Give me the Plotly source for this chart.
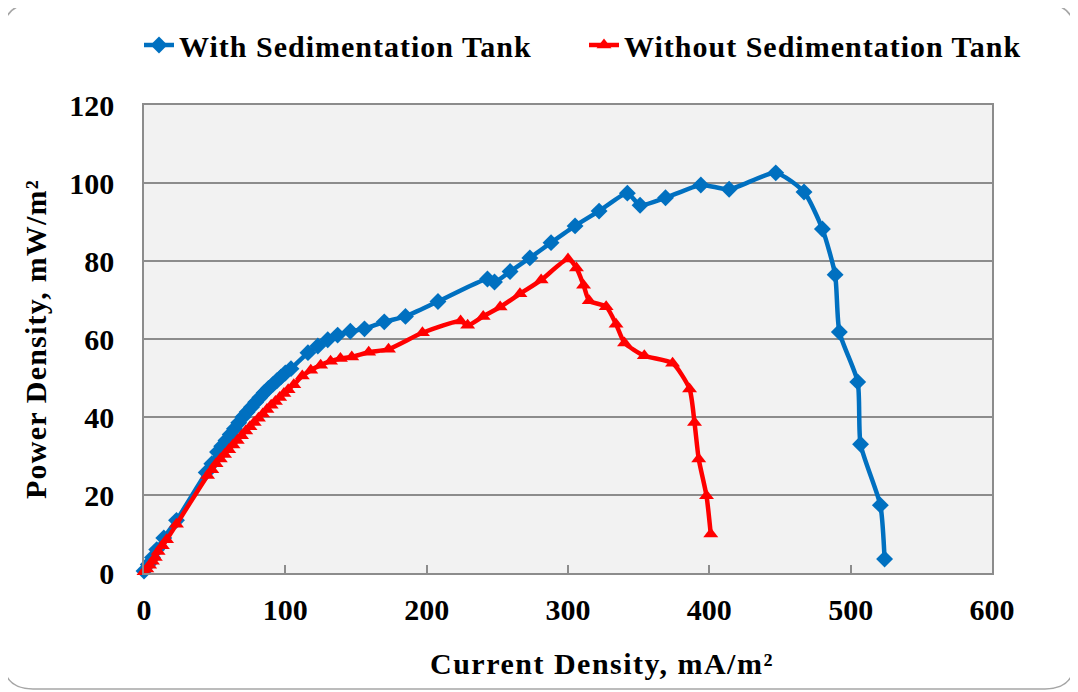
import plotly.graph_objects as go

# ---- data ----
with_x = [0, 3, 6, 9, 14, 23, 44, 48, 52, 55, 58, 61, 64, 67, 70, 73, 76, 79, 82, 85, 88, 91, 94, 97, 100, 104,
          116, 123, 130, 137, 146, 156, 170, 185, 208, 243, 248, 259, 273, 288, 305, 322, 342, 351, 369, 394,
          414, 447, 467, 480, 489, 492, 505, 507, 521, 524]
with_y = [0.5, 2.2, 4, 6, 9, 13.5, 25.8, 28, 31, 32.5, 34, 35.5, 37, 38.5, 40, 41.3, 42.5, 43.8, 45, 46.2, 47.3,
          48.3, 49.3, 50.3, 51.3, 52.4, 56.5, 58.2, 59.8, 61, 62, 62.6, 64.4, 65.8, 69.6, 75.4, 74.6, 77.3, 80.8,
          84.7, 89, 92.8, 97.4, 94.3, 96.2, 99.5, 98.4, 102.6, 97.7, 88.2, 76.5, 61.8, 49, 33, 17.4, 3.6]

without_x = [0, 2, 4, 6, 8, 10, 13, 16, 23, 45, 48, 51, 54, 57, 60, 63, 66, 69, 72, 75, 78, 81, 84, 87, 90, 93,
             96, 99, 102, 106, 112, 118, 125, 132, 139, 147, 159, 173, 197, 224, 229, 240, 252, 266, 281, 300,
             306, 311, 315, 327, 334, 340, 354, 374, 386, 389.5, 392.5, 398, 401]
without_y = [0.3, 1, 2, 3, 4, 5.5, 7, 8.5, 12.5, 25, 26.5, 28, 29.2, 30.4, 31.6, 32.8, 34, 35.2, 36.4, 37.5, 38.6,
             39.7, 40.8, 41.9, 43, 44, 45, 46, 47, 48.3, 50.5, 52, 53.3, 54.3, 55, 55.4, 56.6, 57.4, 61.6, 64.6,
             63.5, 65.8, 68.2, 71.6, 75.1, 80.5, 78.2, 73.8, 69.8, 68.3, 63.8, 59, 55.7, 53.8, 47.2, 38.6, 29.2,
             19.8, 10]

series_names = ["With Sedimentation Tank", "Without Sedimentation Tank"]
x_title = "Current Density, mA/m²"
y_title = "Power Density, mW/m²"

FONT = "Liberation Serif"
OFF = 8  # page body margin
W, H = 1078, 692
L, R, T, B = 144 - OFF, 1078 - 992 + OFF, 105 - OFF, 692 - 573 + OFF
PW, PH = W - L - R, H - T - B


def spaced(s, px):
    return f'<span style="letter-spacing:{px}px">{s}</span>'


def sx(px):
    return (px - OFF - L) / PW


def sy(py):
    return (H - B - (py - OFF)) / PH


fig = go.Figure()
fig.add_trace(go.Scatter(
    x=with_x, y=with_y, name=spaced(series_names[0], 1), mode="lines+markers",
    line=dict(color="#0070C0", width=4.5, shape="spline", smoothing=0.6),
    marker=dict(symbol="diamond", size=13, color="#0070C0"), cliponaxis=False))
fig.add_trace(go.Scatter(
    x=without_x, y=without_y, name=spaced(series_names[1], 1), mode="lines+markers",
    line=dict(color="#FF0000", width=4.5, shape="spline", smoothing=0.6),
    marker=dict(symbol="triangle-up", size=13, color="#FF0000"), cliponaxis=False))


def P(px, py):
    return f"{sx(px):.5f},{sy(py):.5f}"


# rounded outer border
x0, y0, x1, y1, r = 3, 4, 1075, 689, 30
path = (f"M {P(x0 + r, y0)} L {P(x1 - r, y0)} Q {P(x1, y0)} {P(x1, y0 + r)} "
        f"L {P(x1, y1 - r)} Q {P(x1, y1)} {P(x1 - r, y1)} L {P(x0 + r, y1)} "
        f"Q {P(x0, y1)} {P(x0, y1 - r)} L {P(x0, y0 + r)} Q {P(x0, y0)} {P(x0 + r, y0)} Z")
fig.add_shape(type="path", path=path, xref="paper", yref="paper",
              line=dict(color="#A6A6A6", width=1.5), layer="below")

axis_common = dict(showline=True, mirror=True, linecolor="#8C8C8C", linewidth=1.5,
                   ticks="inside", ticklen=8, tickcolor="#8C8C8C", tickwidth=1.5,
                   tickfont=dict(family=FONT, size=30, color="black", weight="bold"),
                   zeroline=False)
fig.update_xaxes(range=[0, 600], dtick=100, tick0=0, showgrid=False,
                 ticklabelstandoff=9, **axis_common)
fig.update_yaxes(range=[0, 120], dtick=20, tick0=0, showgrid=True, gridcolor="#8C8C8C", gridwidth=1.5,
                 title=dict(text=spaced(y_title, 1.2), font=dict(family=FONT, size=30, color="black", weight="bold"),
                            standoff=14),
                 ticklabelstandoff=22, **axis_common)

# x-axis title (placed slightly right of centre, as in the reference)
fig.add_annotation(text=spaced(x_title, 1.5), xref="paper", yref="paper", x=sx(602), y=sy(663),
                   xanchor="center", yanchor="middle", showarrow=False,
                   font=dict(family=FONT, size=30, color="black", weight="bold"))

fig.update_layout(
    width=W, height=H, margin=dict(l=L, r=R, t=T, b=B, autoexpand=False),
    paper_bgcolor="white", plot_bgcolor="#F2F2F2",
    legend=dict(orientation="h", x=sx(139), xanchor="left", y=sy(45), yanchor="middle",
                font=dict(family=FONT, size=30, color="black", weight="bold"),
                entrywidth=400, bgcolor="rgba(0,0,0,0)"),
    showlegend=True,
)

fig.write_html("out.html")
